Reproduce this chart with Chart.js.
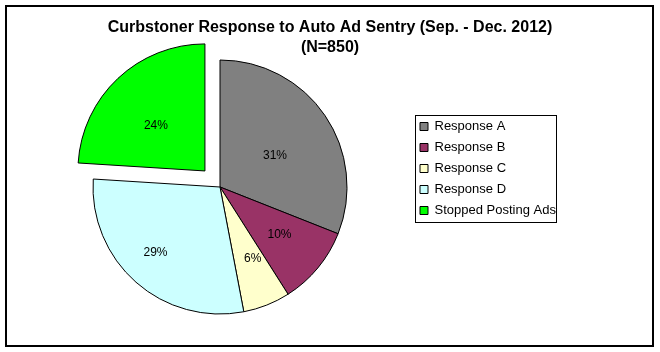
<!DOCTYPE html>
<html><head><meta charset="utf-8">
<script src="https://cdn.jsdelivr.net/npm/chart.js@4/dist/chart.umd.min.js"></script>
<style>html,body{margin:0;padding:0;background:#fff}canvas{display:block}</style>
</head><body>
<canvas id="c" width="660" height="352"></canvas>
<script>
// ---- data ----
const categories = ['Response A', 'Response B', 'Response C', 'Response D', 'Stopped Posting Ads'];
const shares = [31, 10, 6, 29, 24];
const sliceColors = ['#808080', '#993366', '#FFFFCC', '#CCFFFF', '#00FF00'];
const explode = [0, 0, 0, 0, 88];
const titleLines = ['Curbstoner Response to Auto Ad Sentry (Sep. - Dec. 2012)', '(N=850)'];

// ---- styling (label placement tweaks: radial factor, angle nudge in degrees) ----
const FONT = "'Liberation Sans', Arial, sans-serif";
const labelRadius = [0.505, 0.592, 0.613, 0.716, 0.532];
const labelNudge = [3.2, -1.9, -3.3, 3.8, -3.3];
const OFFSET_DIV = 4;

const framePlugin = {
  id: 'frame',
  beforeDraw(chart) {
    const ctx = chart.ctx;
    ctx.save();
    ctx.fillStyle = '#fff';
    ctx.fillRect(0, 0, chart.width, chart.height);
    ctx.strokeStyle = '#000';
    ctx.lineWidth = 2;
    ctx.strokeRect(6, 6, 647, 340);
    ctx.restore();
  },
  afterLayout(chart) {
    const cx = 220, cy = 187, r = 140;
    chart.chartArea = {left: cx - r, right: cx + r, top: cy - r, bottom: cy + r, width: 2 * r, height: 2 * r};
    const lg = chart.legend;
    const w = lg.width, h = lg.height;
    lg.left = 412; lg.top = 112; lg.right = lg.left + w; lg.bottom = lg.top + h;
  },
  afterDraw(chart) {
    const ctx = chart.ctx;
    ctx.save();
    ctx.strokeStyle = '#000';
    ctx.lineWidth = 1;
    ctx.strokeRect(415.5, 115.5, 141, 107);
    ctx.restore();
  }
};

const sliceLabels = {
  id: 'sliceLabels',
  afterDatasetsDraw(chart) {
    const meta = chart.getDatasetMeta(0);
    const ctx = chart.ctx;
    ctx.save();
    ctx.font = '12px ' + FONT;
    ctx.fillStyle = '#000';
    ctx.textAlign = 'center';
    ctx.textBaseline = 'middle';
    meta.data.forEach((arc, i) => {
      const p = arc.getProps(['x', 'y', 'startAngle', 'endAngle', 'outerRadius'], true);
      const mid = (p.startAngle + p.endAngle) / 2;
      const off = (arc.options.offset || 0) / OFFSET_DIV;
      const cx = p.x + Math.cos(mid) * off;
      const cy = p.y + Math.sin(mid) * off;
      const a = mid + labelNudge[i] * Math.PI / 180;
      const d = p.outerRadius * labelRadius[i];
      ctx.fillText(shares[i] + '%', cx + Math.cos(a) * d, cy + Math.sin(a) * d + 1.5);
    });
    ctx.restore();
  }
};

Chart.defaults.font.family = FONT;
Chart.defaults.color = '#000';

new Chart(document.getElementById('c'), {
  type: 'pie',
  data: {
    labels: categories,
    datasets: [{
      data: shares,
      backgroundColor: sliceColors,
      borderColor: '#000',
      borderWidth: 1,
      offset: explode,
      hoverOffset: 0
    }]
  },
  options: {
    responsive: false,
    animation: false,
    radius: 127,
    layout: {padding: 0},
    plugins: {
      title: {
        display: true,
        text: titleLines,
        color: '#000',
        font: {family: FONT, size: 16, weight: 'bold', lineHeight: 1.29},
        padding: {top: 17, bottom: 10}
      },
      legend: {
        position: 'right',
        align: 'start',
        labels: {
          boxWidth: 8,
          boxHeight: 8,
          padding: 8,
          color: '#000',
          font: {family: FONT, size: 13}
        }
      },
      tooltip: {enabled: false}
    }
  },
  plugins: [framePlugin, sliceLabels]
});
</script>
</body></html>
